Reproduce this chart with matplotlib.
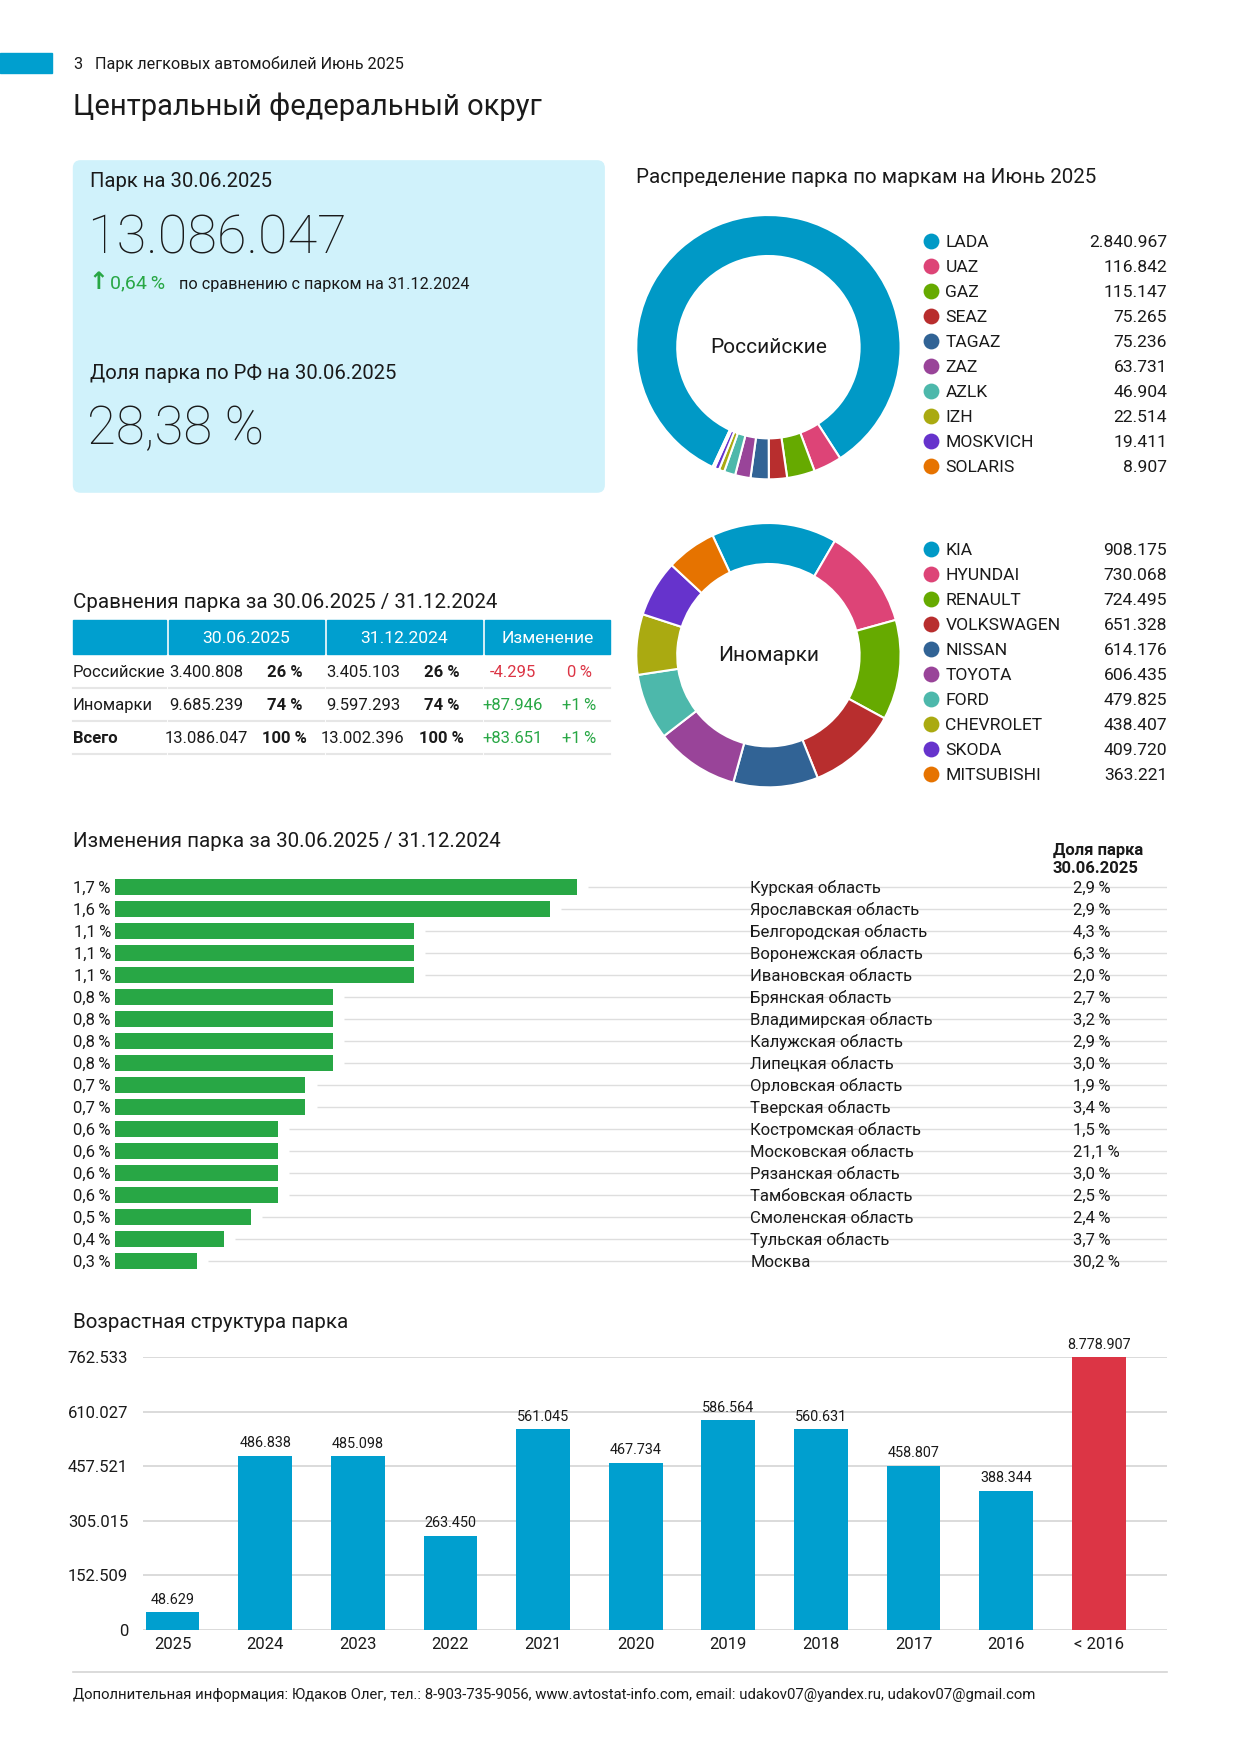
import matplotlib
matplotlib.use('Agg')
import matplotlib.pyplot as plt
from matplotlib.patches import FancyBboxPatch, Rectangle

plt.rcParams['font.family'] = ['Roboto', 'DejaVu Sans']

# ---- data ----
ru_brands = ['LADA', 'UAZ', 'GAZ', 'SEAZ', 'TAGAZ', 'ZAZ', 'AZLK', 'IZH', 'MOSKVICH', 'SOLARIS']
ru_values = [2840967, 116842, 115147, 75265, 75236, 63731, 46904, 22514, 19411, 8907]
foreign_brands = ['KIA', 'HYUNDAI', 'RENAULT', 'VOLKSWAGEN', 'NISSAN', 'TOYOTA', 'FORD',
                  'CHEVROLET', 'SKODA', 'MITSUBISHI']
foreign_values = [908175, 730068, 724495, 651328, 614176, 606435, 479825, 438407, 409720, 363221]
brand_colors = ['#0099c6', '#dd4477', '#66aa00', '#b82e2e', '#316395', '#994499', '#4db8ab',
                '#aaaa11', '#6633cc', '#e67300']

table_rows = ['Российские', 'Иномарки', 'Всего']
park_2025 = [3400808, 9685239, 13086047]
share_2025 = [26, 74, 100]
park_2024 = [3405103, 9597293, 13002396]
share_2024 = [26, 74, 100]
delta_abs = [-4295, 87946, 83651]
delta_pct = [0, 1, 1]

regions = ['Курская область', 'Ярославская область', 'Белгородская область',
           'Воронежская область', 'Ивановская область', 'Брянская область',
           'Владимирская область', 'Калужская область', 'Липецкая область',
           'Орловская область', 'Тверская область', 'Костромская область',
           'Московская область', 'Рязанская область', 'Тамбовская область',
           'Смоленская область', 'Тульская область', 'Москва']
region_change = [1.7, 1.6, 1.1, 1.1, 1.1, 0.8, 0.8, 0.8, 0.8, 0.7, 0.7, 0.6, 0.6, 0.6, 0.6, 0.5, 0.4, 0.3]
region_share = [2.9, 2.9, 4.3, 6.3, 2.0, 2.7, 3.2, 2.9, 3.0, 1.9, 3.4, 1.5, 21.1, 3.0, 2.5, 2.4, 3.7, 30.2]

age_labels = ['2025', '2024', '2023', '2022', '2021', '2020', '2019', '2018', '2017', '2016', '< 2016']
age_values = [48629, 486838, 485098, 263450, 561045, 467734, 586564, 560631, 458807, 388344, 8778907]
age_ticks = [0, 152509, 305015, 457521, 610027, 762533]

BLUE = '#009fcf'
RED = '#dc3545'
GREEN = '#28a745'
TXT = '#1a1a1a'
GRID = '#dedede'


def num(v):
    return f'{v:,}'.replace(',', '.')


def pct(v):
    return f'{v:.1f}'.replace('.', ',') + '\u202f%'


# page coordinates (layout units), figure is 1240x1755 px
W, H = 1107, 1567
fig = plt.figure(figsize=(12.4, 17.55), dpi=100)
page = fig.add_axes([0, 0, 1, 1])
page.set_xlim(0, W)
page.set_ylim(H, 0)
page.axis('off')


def box(x0, y0, x1, y1):
    return fig.add_axes([x0 / W, 1 - y1 / H, (x1 - x0) / W, (y1 - y0) / H])


def txt(x, y, s, size=12, **kw):
    kw.setdefault('color', TXT)
    kw.setdefault('va', 'center')
    page.text(x, y + 1.2, s, fontsize=size, **kw)


# header
page.add_patch(Rectangle((0, 47), 46, 18, color=BLUE))
txt(65, 56, '3', 11.7)
txt(85, 56, 'Парк легковых автомобилей Июнь 2025', 11.7)
txt(65, 94, 'Центральный федеральный округ', 21)

# KPI block
page.add_patch(FancyBboxPatch((65, 143), 475, 297, boxstyle='round,pad=0,rounding_size=7',
                              fc='#d0f2fb', ec='none'))
txt(80, 161, 'Парк на 30.06.2025', 14.6)
txt(78, 212, num(park_2025[2]), 39, fontweight='light')
txt(79, 251, '↑', 17, color=GREEN, fontweight='bold', family='DejaVu Sans')
txt(98, 252, '0,64\u202f%', 14, color=GREEN)
txt(160, 253, 'по сравнению с парком на 31.12.2024', 11.7)
txt(80, 332, 'Доля парка по РФ на 30.06.2025', 14.6)
txt(78, 382, '28,38\u202f%', 38, fontweight='light')

# donuts
txt(568, 157, 'Распределение парка по маркам на Июнь 2025', 14.8)


def donut(cy, values, brands, label, start):
    r = 118
    ax = box(686 - r, cy - r, 686 + r, cy + r)
    ax.pie(values, colors=brand_colors, startangle=start, counterclock=False, radius=1,
           wedgeprops=dict(width=0.31, edgecolor='white', linewidth=1.5))
    ax.set_xlim(-1, 1)
    ax.set_ylim(-1, 1)
    ax.text(0, 0, label, ha='center', va='center', fontsize=15, color=TXT)
    y0 = cy - 95
    for i, (b, v, c) in enumerate(zip(brands, values, brand_colors)):
        y = y0 + i * 22.35
        page.scatter(831, y, s=130, color=c, lw=0)
        txt(844, y, b, 12.6)
        txt(1042, y, num(v), 12.6, ha='right')


donut(310, ru_values, ru_brands, 'Российские', 245)
donut(585, foreign_values, foreign_brands, 'Иномарки', 115)

# comparison table
txt(65, 537, 'Сравнения парка за 30.06.2025 / 31.12.2024', 14.8)
cols = [(65, 148), (151, 289), (292, 430), (433, 545)]
for x0, x1 in cols:
    page.add_patch(Rectangle((x0, 554), x1 - x0, 30, color=BLUE))
for (x0, x1), h in zip(cols[1:], ['30.06.2025', '31.12.2024', 'Изменение']):
    txt((x0 + x1) / 2, 569, h, 12.6, color='white', ha='center')
for i, name in enumerate(table_rows):
    y = 599 + i * 29.5
    bold = 'bold' if name == 'Всего' else 'normal'
    dc = RED if delta_abs[i] < 0 else GREEN
    txt(65, y, name, 12, fontweight=bold)
    txt(184, y, num(park_2025[i]), 12, ha='center')
    txt(254, y, f'{share_2025[i]}\u202f%', 12, ha='center', fontweight='bold')
    txt(324, y, num(park_2024[i]), 12, ha='center')
    txt(394, y, f'{share_2024[i]}\u202f%', 12, ha='center', fontweight='bold')
    sign = '+' if delta_abs[i] > 0 else ''
    txt(458, y, sign + num(delta_abs[i]), 12, ha='center', color=dc)
    psign = '+' if delta_pct[i] > 0 else ''
    txt(517, y, f'{psign}{delta_pct[i]}\u202f%', 12, ha='center', color=dc)
    for x0, x1 in cols:
        page.plot([x0, x1], [y + 15, y + 15], color='#e6e6e6', lw=1.5)

# region change bars
txt(65, 750, 'Изменения парка за 30.06.2025 / 31.12.2024', 14.8)
txt(940, 758, 'Доля парка', 12, fontweight='bold')
txt(940, 774, '30.06.2025', 12, fontweight='bold')
step = 19.65
k = 242.4
ax = box(103, 792 - step / 2, 1042, 1126 + step / 2)
n = len(regions)
ypos = list(range(n))
ax.barh(ypos, region_change, height=0.72, color=GREEN, zorder=2)
xmax = (1042 - 103) / k
ax.hlines(ypos, [v + 10 / k for v in region_change], xmax, color=GRID, lw=1, zorder=0)
for i in ypos:
    ax.text(-4 / k, i + 0.05, pct(region_change[i]), ha='right', va='center', fontsize=12, color=TXT)
    ax.text((670 - 103) / k, i + 0.05, regions[i], va='center', fontsize=12, color=TXT)
    ax.text((958 - 103) / k, i + 0.05, pct(region_share[i]), va='center', fontsize=12, color=TXT)
ax.set_xlim(0, xmax)
ax.set_ylim(n - 0.5, -0.5)
ax.axis('off')

# age structure
txt(65, 1180, 'Возрастная структура парка', 14.8)
ax = box(128, 1212, 1042, 1455)
xs = list(range(len(age_labels)))
colors = [BLUE] * (len(age_labels) - 1) + [RED]
ax.bar(xs, age_values, width=0.58, color=colors, zorder=2)
top = age_ticks[-1]
for x, v in zip(xs, age_values):
    ax.annotate(num(v), (x, min(v, top)), xytext=(0, 4), textcoords='offset points',
                ha='center', va='bottom', fontsize=10.4, color=TXT, annotation_clip=False)
ax.set_ylim(0, top)
ax.set_xlim((128 - 154) / 82.7, (1042 - 154) / 82.7)
ax.set_yticks(age_ticks, [num(t) for t in age_ticks])
ax.set_xticks(xs, age_labels)
ax.grid(axis='y', color='#d4d4d4', lw=1.2, zorder=0)
ax.tick_params(length=0, labelsize=12, labelcolor=TXT)
ax.tick_params(axis='y', pad=11)
ax.tick_params(axis='x', pad=5)
for s in ax.spines.values():
    s.set_visible(False)

# footer
page.plot([65, 1042], [1493, 1493], color='#d4d4d4', lw=1.2)
txt(65, 1512, 'Дополнительная информация: Юдаков Олег, тел.: 8-903-735-9056, '
    'www.avtostat-info.com, email: udakov07@yandex.ru, udakov07@gmail.com', 10.7)

fig.savefig('out.png', dpi=100)
